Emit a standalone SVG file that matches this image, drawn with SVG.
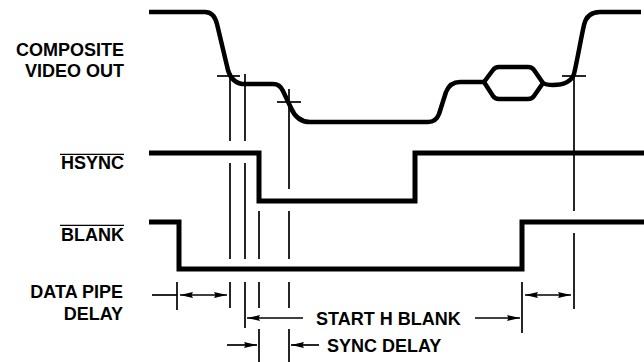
<svg xmlns="http://www.w3.org/2000/svg" width="644" height="362" viewBox="0 0 644 362">
<style>
.lbl{font-family:"Liberation Sans",Arial,sans-serif;font-weight:bold;font-size:18px;fill:#000}
.end{text-anchor:end}
.wave{fill:none;stroke:#000;stroke-width:4.5;stroke-linejoin:round;stroke-linecap:butt}
.dig{fill:none;stroke:#000;stroke-width:5;stroke-linejoin:miter;stroke-linecap:butt}
.thin{fill:none;stroke:#000;stroke-width:1.7}
.arr{fill:none;stroke:#000;stroke-width:1.7}
</style>
<defs>
<marker id="ah" viewBox="0 0 13 7" refX="13" refY="3.5" markerWidth="13" markerHeight="7" orient="auto-start-reverse" markerUnits="userSpaceOnUse">
<path d="M0,0.5 L13,3.5 L0,6.5 L1.5,3.5 z" fill="#000"/>
</marker>
</defs>

<g id="labels">
<text class="lbl end" x="124" y="56">COMPOSITE</text>
<text class="lbl end" x="124" y="77">VIDEO OUT</text>
<text class="lbl end" x="124" y="169">HSYNC</text>
<line x1="60" y1="154.3" x2="124" y2="154.3" stroke="#000" stroke-width="1.3"/>
<text class="lbl end" x="124" y="241">BLANK</text>
<line x1="60" y1="225.3" x2="124" y2="225.3" stroke="#000" stroke-width="1.3"/>
<text class="lbl end" x="123" y="298">DATA PIPE</text>
<text class="lbl end" x="123" y="320">DELAY</text>
<text class="lbl" x="316" y="325">START H BLANK</text>
<text class="lbl" x="327" y="352">SYNC DELAY</text>
</g>

<g id="composite-video">
<path class="wave" d="M149,12 H205 Q214,12 217,24 L227,66 Q230,82 242,84 H273 Q280,84 283,91 L291,108 Q297,122 310,122 H428 Q436,122 439,114 L446,92 Q450,82 460,82 H484"/>
<path class="wave" d="M484,82 L493,70 Q495,67 499,67 H528 Q532,67 534,70 L543,83 L534,96 Q532,99 528,99 H499 Q495,99 493,96 Z"/>
<path class="wave" d="M543,83 Q546,85 553,85 Q570,85 574,74 C577,62 581,38 584,25 Q587,12 600,12 H641"/>
</g>

<g id="hsync">
<path class="dig" d="M149,153 H259 V201 H415 V153 H644"/>
</g>

<g id="blank">
<path class="dig" d="M149,222 H179 V269 H522 V222 H644"/>
</g>

<g id="connectors">
<line class="thin" x1="217" y1="76" x2="240" y2="76"/>
<line class="thin" x1="277" y1="102" x2="301" y2="102"/>
<line class="thin" x1="562" y1="76" x2="586" y2="76"/>
<path class="thin" d="M230,76 V141 M230,163 V259 M230,282 V308"/>
<path class="thin" d="M245,74 V141 M245,163 V259 M245,282 V328"/>
<path class="thin" d="M259,211 V259 M259,282 V308 M259,329 V362"/>
<path class="thin" d="M289,89 V189 M289,211 V259 M289,282 V308 M289,329 V362"/>
<path class="thin" d="M574,76 V211 M574,233 V309"/>
<path class="thin" d="M177,282 V310 M522,282 V333"/>
<line class="arr" x1="152" y1="295" x2="177" y2="295"/>
<line class="arr" x1="180" y1="295" x2="227" y2="295" marker-start="url(#ah)" marker-end="url(#ah)"/>
<line class="arr" x1="525" y1="295" x2="571" y2="295" marker-start="url(#ah)" marker-end="url(#ah)"/>
<line class="arr" x1="303" y1="318" x2="247" y2="318" marker-end="url(#ah)"/>
<line class="arr" x1="475" y1="318" x2="520" y2="318" marker-end="url(#ah)"/>
<line class="arr" x1="227" y1="345" x2="257" y2="345" marker-end="url(#ah)"/>
<line class="arr" x1="319" y1="345" x2="291" y2="345" marker-end="url(#ah)"/>
</g>
</svg>
